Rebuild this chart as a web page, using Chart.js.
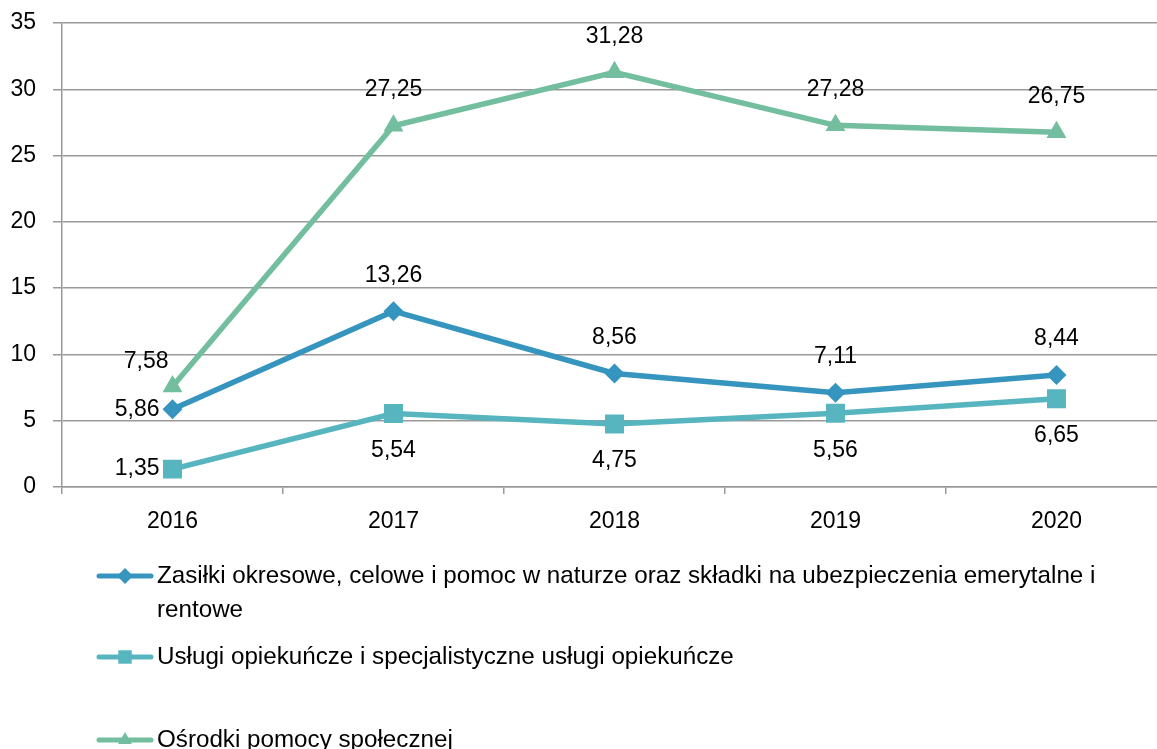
<!DOCTYPE html>
<html>
<head>
<meta charset="utf-8">
<script src="https://cdn.jsdelivr.net/npm/chart.js@4.4.1/dist/chart.umd.min.js"></script>
<style>
  html, body { margin: 0; padding: 0; overflow: hidden; background: #fff; }
  #chart { position: absolute; left: 0; top: 0; width: 1170px; height: 749px; }
</style>
</head>
<body>
<canvas id="chart" width="1170" height="749"></canvas>
<script>
const years = ["2016", "2017", "2018", "2019", "2020"];
const zasilki = [5.86, 13.26, 8.56, 7.11, 8.44];
const uslugi = [1.35, 5.54, 4.75, 5.56, 6.65];
const osrodki = [7.58, 27.25, 31.28, 27.28, 26.75];
const seriesNames = [
  "Zasiłki okresowe, celowe i pomoc w naturze oraz składki na ubezpieczenia emerytalne i rentowe",
  "Usługi opiekuńcze i specjalistyczne usługi opiekuńcze",
  "Ośrodki pomocy społecznej"
];

const FONT = "'Liberation Sans', Arial, sans-serif";

function fmt(v) {
  return v.toFixed(2).replace(".", ",");
}

// where each value label sits relative to its point
const labelPlace = [
  ["left", "top", "top", "top", "top"],
  ["left", "bottom", "bottom", "bottom", "bottom"],
  ["topleft", "top", "top", "top", "top"]
];

const valueLabels = {
  id: "valueLabels",
  afterDatasetsDraw(chart) {
    const ctx = chart.ctx;
    ctx.save();
    ctx.font = "23px " + FONT;
    ctx.fillStyle = "#000";
    ctx.textBaseline = "middle";
    chart.data.datasets.forEach((ds, di) => {
      const meta = chart.getDatasetMeta(di);
      meta.data.forEach((pt, i) => {
        const txt = fmt(ds.data[i]);
        const p = labelPlace[di][i];
        let x = pt.x, y = pt.y;
        if (p === "top") { ctx.textAlign = "center"; y -= 36; }
        else if (p === "bottom") { ctx.textAlign = "center"; y += 37; }
        else if (p === "left") { ctx.textAlign = "right"; x -= 13; }
        else { ctx.textAlign = "right"; x -= 4; y -= 25; }
        ctx.fillText(txt, x, y);
      });
    });
    ctx.restore();
  }
};

const sideLegend = {
  id: "sideLegend",
  afterDraw(chart) {
    const ctx = chart.ctx;
    const rows = [576, 657, 740];
    ctx.save();
    ctx.font = "24.2px " + FONT;
    ctx.textBaseline = "middle";
    ctx.textAlign = "left";
    chart.data.datasets.forEach((ds, di) => {
      const y = rows[di];
      ctx.strokeStyle = ds.borderColor;
      ctx.lineWidth = 5;
      ctx.lineCap = "round";
      ctx.beginPath();
      ctx.moveTo(99, y);
      ctx.lineTo(151, y);
      ctx.stroke();
      ctx.fillStyle = ds.borderColor;
      Chart.helpers.drawPoint(ctx, {
        pointStyle: ds.pointStyle,
        radius: ds.pointStyle === "rect" ? 9.5 : 8,
        borderWidth: 0,
        rotation: 0
      }, 125, y);
      ctx.fillStyle = "#000";
      // wrap the name into lines
      const words = ds.label.split(" ");
      const maxW = 975;
      let line = "", ly = y;
      words.forEach(w => {
        const test = line ? line + " " + w : w;
        if (ctx.measureText(test).width > maxW && line) {
          ctx.fillText(line, 157, ly);
          line = w;
          ly += 34;
        } else {
          line = test;
        }
      });
      ctx.fillText(line, 157, ly);
    });
    ctx.restore();
  }
};

function makeSet(name, values, color, style, radius) {
  return {
    label: name,
    data: values,
    borderColor: color,
    backgroundColor: color,
    borderWidth: 5.5,
    pointStyle: style,
    pointRadius: radius,
    pointHoverRadius: radius,
    pointBackgroundColor: color,
    pointBorderColor: color,
    pointBorderWidth: 0,
    tension: 0
  };
}

new Chart(document.getElementById("chart"), {
  type: "line",
  data: {
    labels: years,
    datasets: [
      makeSet(seriesNames[0], zasilki, "#3595BE", "rectRot", 10),
      makeSet(seriesNames[1], uslugi, "#56B5BF", "rect", 13.4),
      makeSet(seriesNames[2], osrodki, "#72BE9E", "triangle", 11.5)
    ]
  },
  options: {
    responsive: false,
    animation: false,
    events: [],
    layout: { autoPadding: false, padding: { top: 23, right: 3, left: 0, bottom: 207 } },
    plugins: {
      legend: { display: false },
      tooltip: { enabled: false }
    },
    scales: {
      x: {
        offset: true,
        grid: {
          offset: true,
          drawOnChartArea: false,
          drawTicks: true,
          tickLength: 7,
          color: "#999",
          lineWidth: 1.5
        },
        border: { color: "#999", width: 1.5 },
        ticks: {
          color: "#000",
          font: { family: FONT, size: 23 },
          padding: 14
        },
        afterFit(s) {
          s.height = 55;
          s.paddingLeft = 0;
          s.paddingRight = 0;
        }
      },
      y: {
        min: 0,
        max: 35,
        grid: {
          color: "#999",
          lineWidth: 1.5,
          tickLength: 9
        },
        border: { color: "#999", width: 1.5 },
        ticks: {
          stepSize: 5,
          color: "#000",
          font: { family: FONT, size: 23 },
          padding: 17
        },
        afterFit(s) {
          s.width = 62;
          s.paddingTop = 0;
          s.paddingBottom = 0;
        }
      }
    }
  },
  plugins: [valueLabels, sideLegend]
});
</script>
</body>
</html>
